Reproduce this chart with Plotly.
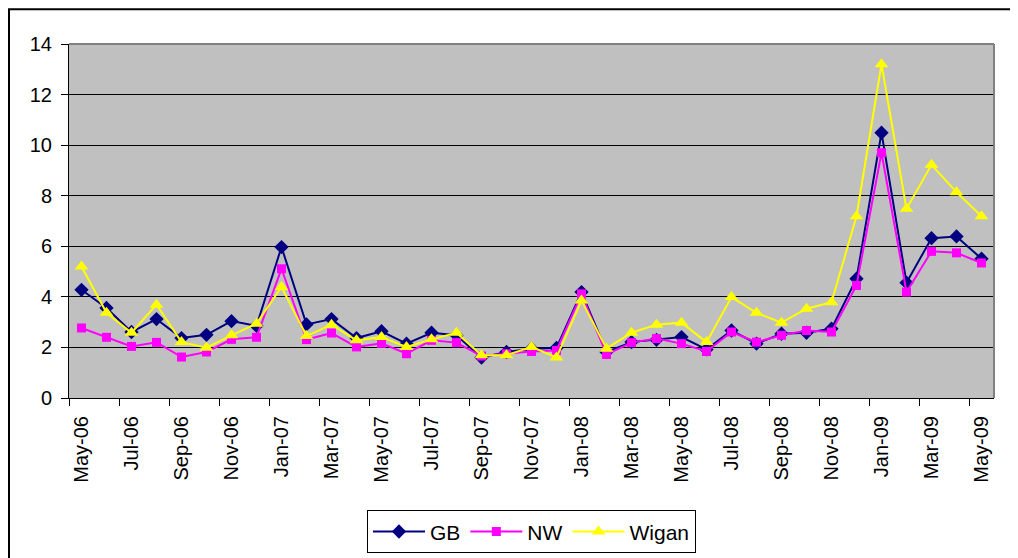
import plotly.graph_objects as go

months = ["May-06", "Jun-06", "Jul-06", "Aug-06", "Sep-06", "Oct-06", "Nov-06", "Dec-06",
          "Jan-07", "Feb-07", "Mar-07", "Apr-07", "May-07", "Jun-07", "Jul-07", "Aug-07",
          "Sep-07", "Oct-07", "Nov-07", "Dec-07", "Jan-08", "Feb-08", "Mar-08", "Apr-08",
          "May-08", "Jun-08", "Jul-08", "Aug-08", "Sep-08", "Oct-08", "Nov-08", "Dec-08",
          "Jan-09", "Feb-09", "Mar-09", "Apr-09", "May-09"]

gb = [4.28, 3.56, 2.61, 3.12, 2.37, 2.50, 3.04, 2.85, 5.97, 2.91, 3.12, 2.37, 2.64,
      2.15, 2.58, 2.48, 1.60, 1.82, 1.95, 1.98, 4.19, 1.82, 2.21, 2.30, 2.41,
      1.92, 2.67, 2.15, 2.54, 2.58, 2.74, 4.72, 10.49, 4.56, 6.32, 6.39, 5.51]
nw = [2.77, 2.40, 2.04, 2.20, 1.62, 1.82, 2.32, 2.40, 5.11, 2.31, 2.57, 2.02, 2.16,
      1.75, 2.28, 2.19, 1.66, 1.75, 1.84, 1.88, 4.12, 1.72, 2.19, 2.35, 2.15,
      1.84, 2.61, 2.21, 2.48, 2.67, 2.61, 4.45, 9.70, 4.19, 5.80, 5.74, 5.34]
wigan = [5.20, 3.37, 2.58, 3.69, 2.21, 1.99, 2.48, 2.94, 4.39, 2.45, 2.90, 2.28, 2.41,
         2.02, 2.32, 2.58, 1.69, 1.69, 2.02, 1.60, 3.86, 1.95, 2.58, 2.90, 2.98,
         2.21, 3.99, 3.37, 2.98, 3.53, 3.79, 7.19, 13.20, 7.48, 9.22, 8.14, 7.19]

series = [
    ("GB", gb, "#000080", "diamond", 11),
    ("NW", nw, "#FF00FF", "square", 9),
    ("Wigan", wigan, "#FFFF00", "triangle-up", 12),
]

fig = go.Figure()
for name, vals, color, sym, size in series:
    fig.add_trace(go.Scatter(
        x=months, y=vals, name=name, mode="lines+markers",
        line=dict(color=color, width=2),
        marker=dict(color=color, symbol=sym, size=size, line=dict(width=0)),
    ))

# The page body adds an 8px offset; figure coordinates below are page coords - 8.
W, H = 1018, 558
OFF = 8
L, T = 69 - OFF, 44 - OFF
R = W - (994 - OFF)
B = H - (400 - OFF)
pw, ph = W - L - R, H - T - B

def px_to_paper_x(px):
    return (px - OFF - L) / pw

def px_to_paper_y(py):
    return (H - B - (py - OFF)) / ph

font = "Liberation Sans, Arial, sans-serif"

fig.update_layout(
    width=W, height=H,
    margin=dict(l=L, r=R, t=T, b=B, pad=0),
    paper_bgcolor="white",
    plot_bgcolor="#C0C0C0",
    font=dict(family=font, color="black"),
    showlegend=True,
    legend=dict(
        orientation="h", x=0.5, xanchor="center",
        y=px_to_paper_y(513), yanchor="top",
        bordercolor="black", borderwidth=1, bgcolor="white",
        font=dict(size=21, family=font),
        itemwidth=52, tracegroupgap=0,
    ),
    xaxis=dict(
        type="category", categoryorder="array", categoryarray=months,
        range=[-0.5, len(months) - 0.5],
        tickmode="linear", tick0=0, dtick=2,
        tickson="boundaries", ticks="outside", ticklen=7, tickcolor="black",
        ticklabelstandoff=9,
        tickangle=-90, tickfont=dict(size=20, family=font),
        showline=True, linecolor="black", linewidth=1,
        showgrid=False, zeroline=False,
    ),
    yaxis=dict(
        range=[0, 14], tickmode="linear", tick0=0, dtick=2,
        ticks="outside", ticklen=7, tickcolor="black",
        ticklabelstandoff=5,
        tickfont=dict(size=20, family=font),
        showline=True, linecolor="black", linewidth=1,
        showgrid=True, gridcolor="black", gridwidth=1,
        zeroline=False,
    ),
    shapes=[
        # plot-area top and right border (gray)
        dict(type="line", xref="paper", yref="paper", x0=0, x1=1, y0=1, y1=1,
             line=dict(color="#808080", width=2)),
        dict(type="line", xref="paper", yref="paper", x0=1, x1=1, y0=0, y1=1,
             line=dict(color="#808080", width=2)),
        # outer chart frame
        dict(type="rect", xref="paper", yref="paper",
             x0=px_to_paper_x(OFF + 1), x1=px_to_paper_x(W + 40),
             y0=px_to_paper_y(H + 40), y1=px_to_paper_y(OFF + 1),
             line=dict(color="black", width=2), fillcolor="rgba(0,0,0,0)", layer="below"),
    ],
)

fig.write_html("out.html")
